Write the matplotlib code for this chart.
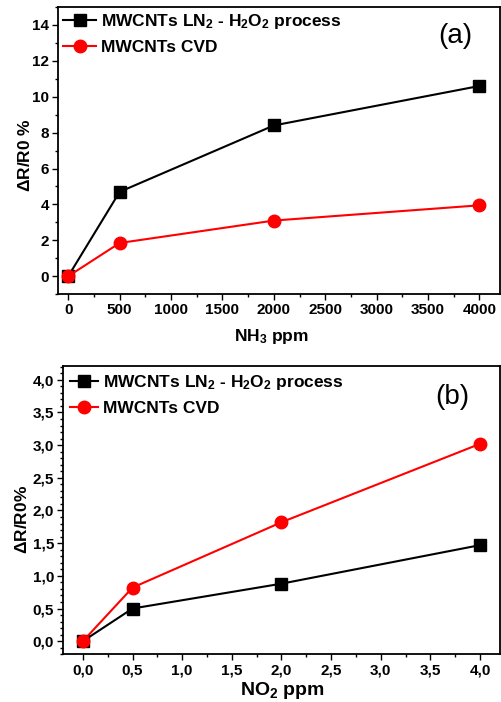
import matplotlib
matplotlib.use("Agg")
import matplotlib.pyplot as plt
from matplotlib.ticker import MultipleLocator, FuncFormatter

plt.rcParams['font.family'] = ['Liberation Sans', 'DejaVu Sans']
plt.rcParams['font.weight'] = 'bold'
plt.rcParams['mathtext.fontset'] = 'custom'
plt.rcParams['mathtext.rm'] = 'Liberation Sans:bold'
plt.rcParams['mathtext.bf'] = 'Liberation Sans:bold'
plt.rcParams['mathtext.default'] = 'bf'

# Data
nh3_ppm = [0, 500, 2000, 4000]
nh3_ln2 = [0.0, 4.7, 8.4, 10.6]
nh3_cvd = [0.0, 1.85, 3.1, 3.95]

no2_ppm = [0.0, 0.5, 2.0, 4.0]
no2_ln2 = [0.0, 0.5, 0.88, 1.47]
no2_cvd = [0.0, 0.82, 1.82, 3.02]

label_ln2 = r'MWCNTs LN$_2$ - H$_2$O$_2$ process'
label_cvd = 'MWCNTs CVD'

fig = plt.figure(figsize=(5.02, 7.02), dpi=100)
axa = fig.add_axes([0.1155, 0.581, 0.8805, 0.409])
axb = fig.add_axes([0.1255, 0.068, 0.8705, 0.4106])

def style(ax):
    for s in ax.spines.values():
        s.set_linewidth(1.3)
    ax.tick_params(which='both', direction='out', top=False, right=False, width=1.0,
                   labelsize=11, pad=2.5)
    ax.tick_params(which='major', length=4)
    ax.tick_params(which='minor', length=2.5)
    for lab in ax.get_xticklabels() + ax.get_yticklabels():
        lab.set_fontweight('bold')

# Panel (a)
axa.plot(nh3_ppm, nh3_ln2, '-s', color='black', lw=1.5, ms=8.5, label=label_ln2)
axa.plot(nh3_ppm, nh3_cvd, '-o', color='red', lw=1.5, ms=9, label=label_cvd)
axa.set_xlim(-100, 4200)
axa.set_ylim(-1, 15)
axa.xaxis.set_major_locator(MultipleLocator(500))
axa.xaxis.set_minor_locator(MultipleLocator(250))
axa.yaxis.set_major_locator(MultipleLocator(2))
axa.yaxis.set_minor_locator(MultipleLocator(1))
axa.set_xlabel(r'NH$_3$ ppm', fontsize=12.5, fontweight='bold', va='center')
axa.xaxis.set_label_coords(0.484, -0.146)
axa.set_ylabel(r'$\Delta$R/R0 %', fontsize=12.5, fontweight='bold', va='center')
axa.yaxis.set_label_coords(-0.075, 0.484)
style(axa)
axa.legend(loc='upper left', frameon=False, fontsize=12.5, handlelength=1.9,
           handletextpad=0.3, borderaxespad=0.0, borderpad=0.3, labelspacing=0.5)
axa.text(0.898, 0.90, '(a)', transform=axa.transAxes, fontsize=20,
         fontweight='normal', ha='center', va='center')

# Panel (b)
comma = FuncFormatter(lambda v, p: f'{v:.1f}'.replace('.', ','))
axb.plot(no2_ppm, no2_ln2, '-s', color='black', lw=1.5, ms=8.5, label=label_ln2)
axb.plot(no2_ppm, no2_cvd, '-o', color='red', lw=1.5, ms=9, label=label_cvd)
axb.set_xlim(-0.2, 4.2)
axb.set_ylim(-0.2, 4.21)
axb.xaxis.set_major_locator(MultipleLocator(0.5))
axb.xaxis.set_minor_locator(MultipleLocator(0.25))
axb.yaxis.set_major_locator(MultipleLocator(0.5))
axb.yaxis.set_minor_locator(MultipleLocator(0.1))
axb.xaxis.set_major_formatter(comma)
axb.yaxis.set_major_formatter(comma)
axb.set_xlabel(r'NO$_2$ ppm', fontsize=14, fontweight='bold', va='center')
axb.xaxis.set_label_coords(0.503, -0.124)
axb.set_ylabel(r'$\Delta$R/R0%', fontsize=12.5, fontweight='bold', va='center')
axb.yaxis.set_label_coords(-0.094, 0.469)
style(axb)
axb.legend(loc='upper left', frameon=False, fontsize=12.5, handlelength=1.6,
           handletextpad=0.3, borderaxespad=0.1, borderpad=0.3, labelspacing=0.5)
axb.text(0.892, 0.892, '(b)', transform=axb.transAxes, fontsize=20,
         fontweight='normal', ha='center', va='center')

fig.savefig('out.png', dpi=100)
